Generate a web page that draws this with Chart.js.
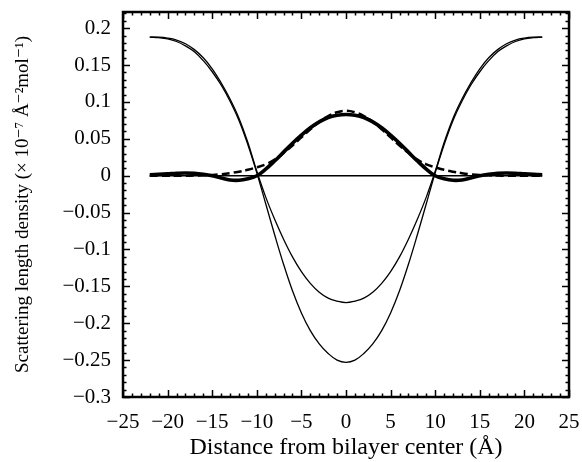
<!DOCTYPE html>
<html>
<head>
<meta charset="utf-8">
<script src="https://cdn.jsdelivr.net/npm/chart.js@4.4.1/dist/chart.umd.min.js"></script>
<style>
  html, body { margin: 0; padding: 0; background: #fff; }
  #wrap { width: 582px; height: 462px; }
</style>
</head>
<body>
<div id="wrap"><canvas id="chart" width="582" height="462"></canvas></div>
<script>
  const xs = [-22, -21, -20, -19, -18, -17, -16, -15, -14, -13, -12, -11, -10, -9, -8, -7, -6, -5, -4, -3, -2, -1,
    0, 1, 2, 3, 4, 5, 6, 7, 8, 9, 10, 11, 12, 13, 14, 15, 16, 17, 18, 19, 20, 21, 22];

  // thin curve with the deeper well
  const deepThin = [0.188, 0.1872, 0.1855, 0.182, 0.176, 0.168, 0.156, 0.141, 0.123, 0.101, 0.075, 0.042, 0.004,
    -0.038, -0.080, -0.120, -0.156, -0.186, -0.210, -0.228, -0.241, -0.250, -0.253, -0.250, -0.241, -0.228, -0.210,
    -0.186, -0.156, -0.120, -0.080, -0.038, 0.004, 0.042, 0.075, 0.101, 0.123, 0.141, 0.156, 0.168, 0.176, 0.182,
    0.1855, 0.1872, 0.188];

  // thin curve with the shallow well
  const shallowThin = [0.188, 0.1878, 0.1866, 0.184, 0.179, 0.171, 0.160, 0.145, 0.126, 0.104, 0.078, 0.045, 0.006,
    -0.029, -0.059, -0.086, -0.110, -0.130, -0.146, -0.158, -0.166, -0.170, -0.172, -0.170, -0.166, -0.158, -0.146,
    -0.130, -0.110, -0.086, -0.059, -0.029, 0.006, 0.045, 0.078, 0.104, 0.126, 0.145, 0.160, 0.171, 0.179, 0.184,
    0.1866, 0.1878, 0.188];

  // thick solid profile
  const thickSolid = [0.0012, 0.0018, 0.0025, 0.0033, 0.0037, 0.0033, 0.002, 0.0, -0.003, -0.0058, -0.0062, -0.004,
    0.0, 0.009, 0.020, 0.032, 0.044, 0.055, 0.065, 0.073, 0.079, 0.082, 0.083, 0.082, 0.079, 0.073, 0.065, 0.055,
    0.044, 0.032, 0.020, 0.009, 0.0, -0.004, -0.0062, -0.0058, -0.003, 0.0, 0.002, 0.0033, 0.0037, 0.0033, 0.0025,
    0.0018, 0.0012];

  // dashed profile
  const dashed = [0, 0, 0, 0, 0, 0.0002, 0.0005, 0.001, 0.002, 0.0035, 0.0055, 0.008, 0.0115, 0.0155, 0.022, 0.031,
    0.041, 0.052, 0.063, 0.073, 0.081, 0.086, 0.088, 0.086, 0.081, 0.073, 0.063, 0.052, 0.041, 0.031, 0.022, 0.0155,
    0.0115, 0.008, 0.0055, 0.0035, 0.002, 0.001, 0.0005, 0.0002, 0, 0, 0, 0, 0];

  const zeroLineX = [-22, 22];
  const zeroLineY = [0, 0];

  const xTicks = [-25, -20, -15, -10, -5, 0, 5, 10, 15, 20, 25];
  const yTicks = [-0.3, -0.25, -0.2, -0.15, -0.1, -0.05, 0, 0.05, 0.1, 0.15, 0.2];

  const pts = (xv, yv) => xv.map((x, i) => ({ x, y: yv[i] }));
  const fmt = (v) => (v < 0 ? "\u2212" + String(-v) : String(v));
  const serif = "'Liberation Serif', 'DejaVu Serif', serif";

  const line = (data, width, dash) => ({
    data,
    borderColor: "#000",
    borderWidth: width,
    borderDash: dash || [],
    pointRadius: 0,
    fill: false,
    tension: 0.4,
  });

  // labels may hang past the plot box, so drop chart.js' extra edge padding
  const noEdgePad = (s) => {
    s.paddingTop = 0;
    s.paddingBottom = 0;
    s.paddingLeft = 0;
    s.paddingRight = 0;
  };

  // box round the plot with inward ticks on every side
  const frameTicks = {
    id: "frameTicks",
    afterDatasetsDraw(chart) {
      const { ctx, chartArea: a, scales } = chart;
      const sx = scales.x, sy = scales.y;
      ctx.save();
      ctx.strokeStyle = "#000";
      ctx.lineWidth = 1.5;
      ctx.beginPath();
      for (let v = -25; v <= 25; v += 1) {
        const px = Math.round(sx.getPixelForValue(v)) + 0.5;
        const len = v % 5 === 0 ? 7 : 3.5;
        ctx.moveTo(px, a.bottom); ctx.lineTo(px, a.bottom - len);
        ctx.moveTo(px, a.top); ctx.lineTo(px, a.top + len);
      }
      for (let k = -30; k <= 22; k += 1) {
        const py = Math.round(sy.getPixelForValue(k / 100)) + 0.5;
        const len = k % 5 === 0 ? 7 : 3.5;
        ctx.moveTo(a.left, py); ctx.lineTo(a.left + len, py);
        ctx.moveTo(a.right, py); ctx.lineTo(a.right - len, py);
      }
      ctx.stroke();
      ctx.lineWidth = 2.5;
      ctx.strokeRect(a.left, a.top, a.right - a.left, a.bottom - a.top);
      ctx.restore();
    },
  };

  new Chart(document.getElementById("chart"), {
    type: "line",
    data: {
      datasets: [
        line(pts(zeroLineX, zeroLineY), 1.5),
        line(pts(xs, deepThin), 1.3),
        line(pts(xs, shallowThin), 1.3),
        line(pts(xs, dashed), 2.5, [8, 4]),
        line(pts(xs, thickSolid), 3.6),
      ],
    },
    options: {
      responsive: false,
      animation: false,
      layout: { padding: { top: 12, right: 13, left: 0, bottom: 0 } },
      plugins: { legend: { display: false }, tooltip: { enabled: false } },
      scales: {
        x: {
          type: "linear",
          min: -25,
          max: 25,
          grid: { display: false, drawTicks: false },
          border: { display: false },
          afterBuildTicks: (s) => { s.ticks = xTicks.map((v) => ({ value: v })); },
          afterFit: (s) => { s.height = 65; noEdgePad(s); },
          ticks: { color: "#000", padding: 13, maxRotation: 0, font: { family: serif, size: 21 }, callback: fmt },
          title: {
            display: true,
            text: "Distance from bilayer center (\u00c5)",
            color: "#000",
            font: { family: serif, size: 24 },
            padding: { top: 0, bottom: 0 },
          },
        },
        y: {
          type: "linear",
          min: -0.3,
          max: 0.222,
          grid: { display: false, drawTicks: false },
          border: { display: false },
          afterBuildTicks: (s) => { s.ticks = yTicks.map((v) => ({ value: v })); },
          afterFit: (s) => { s.width = 123; noEdgePad(s); },
          ticks: { color: "#000", padding: 12, font: { family: serif, size: 21 }, callback: fmt },
          title: {
            display: true,
            text: "Scattering length density (\u00d7 10\u207b\u2077 \u00c5\u207b\u00b2mol\u207b\u00b9)",
            color: "#000",
            font: { family: serif, size: 19 },
            padding: { top: 12, bottom: 0 },
          },
        },
      },
    },
    plugins: [frameTicks],
  });
</script>
</body>
</html>
